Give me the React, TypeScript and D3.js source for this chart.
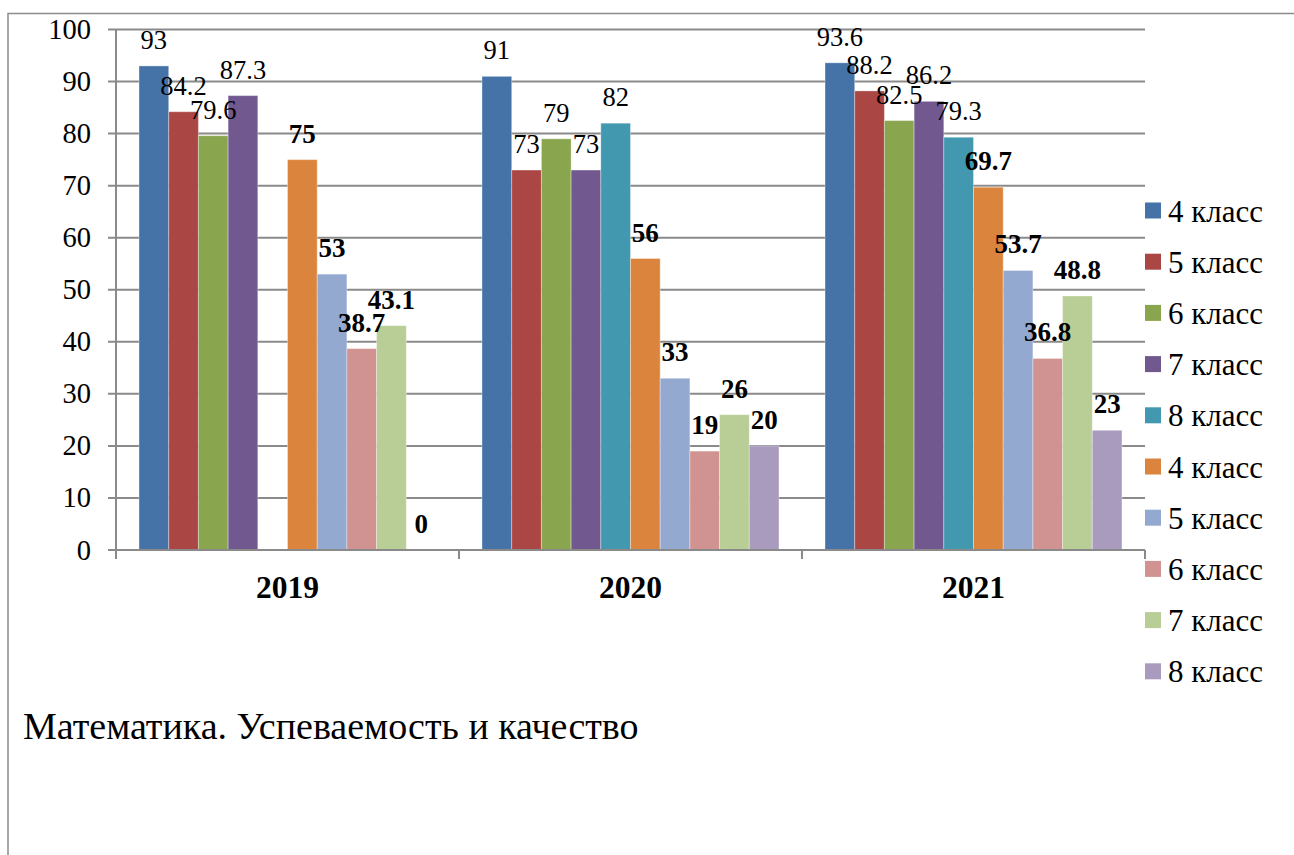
import React from "react";
import * as d3 from "d3";

const years = ["2019", "2020", "2021"];
const seriesNames = [
  "4 класс", "5 класс", "6 класс", "7 класс", "8 класс",
  "4 класс", "5 класс", "6 класс", "7 класс", "8 класс",
];
const seriesColors = [
  "#4572A7", "#AA4643", "#89A54E", "#71588F", "#4198AF",
  "#DB843D", "#93A9CF", "#D19392", "#B9CD96", "#A99BBD",
];
const seriesBold = [false, false, false, false, false, true, true, true, true, true];
// values per series: [2019, 2020, 2021]
const s4a = [93, 91, 93.6];
const s5a = [84.2, 73, 88.2];
const s6a = [79.6, 79, 82.5];
const s7a = [87.3, 73, 86.2];
const s8a = [null, 82, 79.3];
const s4b = [75, 56, 69.7];
const s5b = [53, 33, 53.7];
const s6b = [38.7, 19, 36.8];
const s7b = [43.1, 26, 48.8];
const s8b = [0, 20, 23];
const seriesValues: (number | null)[][] = [s4a, s5a, s6a, s7a, s8a, s4b, s5b, s6b, s7b, s8b];
const yTicks = [0, 10, 20, 30, 40, 50, 60, 70, 80, 90, 100];
const title = "Математика. Успеваемость и качество";

const FONT = "Liberation Serif, Times New Roman, Tinos, DejaVu Serif, serif";

export default function App() {
  const left = 116, right = 1145, top = 29.5, bottom = 550;
  const x0 = d3.scaleBand<string>().domain(years).range([left, right]).padding(0);
  const x1 = d3
    .scaleBand<number>()
    .domain(d3.range(seriesNames.length))
    .range([0, x0.bandwidth()])
    .paddingInner(0)
    .paddingOuter(0.775);
  const y = d3.scaleLinear().domain([0, 100]).range([bottom, top]);
  const grid = "#8a8a8a";

  return (
    <svg
      width={1294}
      height={855}
      style={{ position: "absolute", left: 0, top: 0, background: "#fff", fontFamily: FONT }}
    >
      <rect x={8} y={13.5} width={1290} height={900} fill="#fff" stroke="#8c8c8c" strokeWidth={1.5} />
      {/* gridlines */}
      {yTicks.map((t) => (
        <g key={t}>
          <line x1={108} x2={right} y1={y(t)} y2={y(t)} stroke={grid} strokeWidth={2} />
          <text x={91} y={y(t) + 9.5} textAnchor="end" fontSize={28.5} fill="#000">
            {t}
          </text>
        </g>
      ))}
      {/* y axis */}
      <line x1={left} x2={left} y1={top} y2={bottom + 8} stroke={grid} strokeWidth={2} />
      {/* bars */}
      {years.map((yr, gi) => (
        <g key={yr} transform={`translate(${x0(yr)},0)`}>
          {seriesValues.map((vals, si) => {
            const v = vals[gi];
            if (v === null) return null;
            return (
              <rect
                key={si}
                x={x1(si)}
                y={y(v)}
                width={x1.bandwidth()}
                height={y(0) - y(v)}
                fill={seriesColors[si]}
                stroke="#ffffff"
                strokeOpacity={0.35}
                strokeWidth={1}
              />
            );
          })}
        </g>
      ))}
      {/* x axis */}
      <line x1={left} x2={right} y1={bottom} y2={bottom} stroke={grid} strokeWidth={2} />
      {[...years.map((yr) => x0(yr)!), right].map((xx, i) => (
        <line key={i} x1={xx} x2={xx} y1={bottom} y2={bottom + 9} stroke={grid} strokeWidth={2} />
      ))}
      {years.map((yr) => (
        <text
          key={yr}
          x={x0(yr)! + x0.bandwidth() / 2}
          y={598}
          textAnchor="middle"
          fontSize={31.5}
          fontWeight="bold"
        >
          {yr}
        </text>
      ))}
      {/* data labels */}
      {years.map((yr, gi) => (
        <g key={"l" + yr} transform={`translate(${x0(yr)},0)`}>
          {seriesValues.map((vals, si) => {
            const v = vals[gi];
            if (v === null) return null;
            return (
              <text
                key={si}
                x={x1(si)! + x1.bandwidth() / 2}
                y={y(v) - 17}
                textAnchor="middle"
                fontSize={seriesBold[si] ? 27 : 26.5}
                fontWeight={seriesBold[si] ? "bold" : "normal"}
              >
                {String(v)}
              </text>
            );
          })}
        </g>
      ))}
      {/* legend */}
      {seriesNames.map((n, i) => {
        const cy = 210 + i * 51.2;
        return (
          <g key={i}>
            <rect x={1145} y={cy - 7.5} width={16} height={16} fill={seriesColors[i]} />
            <text x={1168} y={cy + 11.5} fontSize={31}>
              {n}
            </text>
          </g>
        );
      })}
      <text x={23} y={739} fontSize={38}>
        {title}
      </text>
    </svg>
  );
}
